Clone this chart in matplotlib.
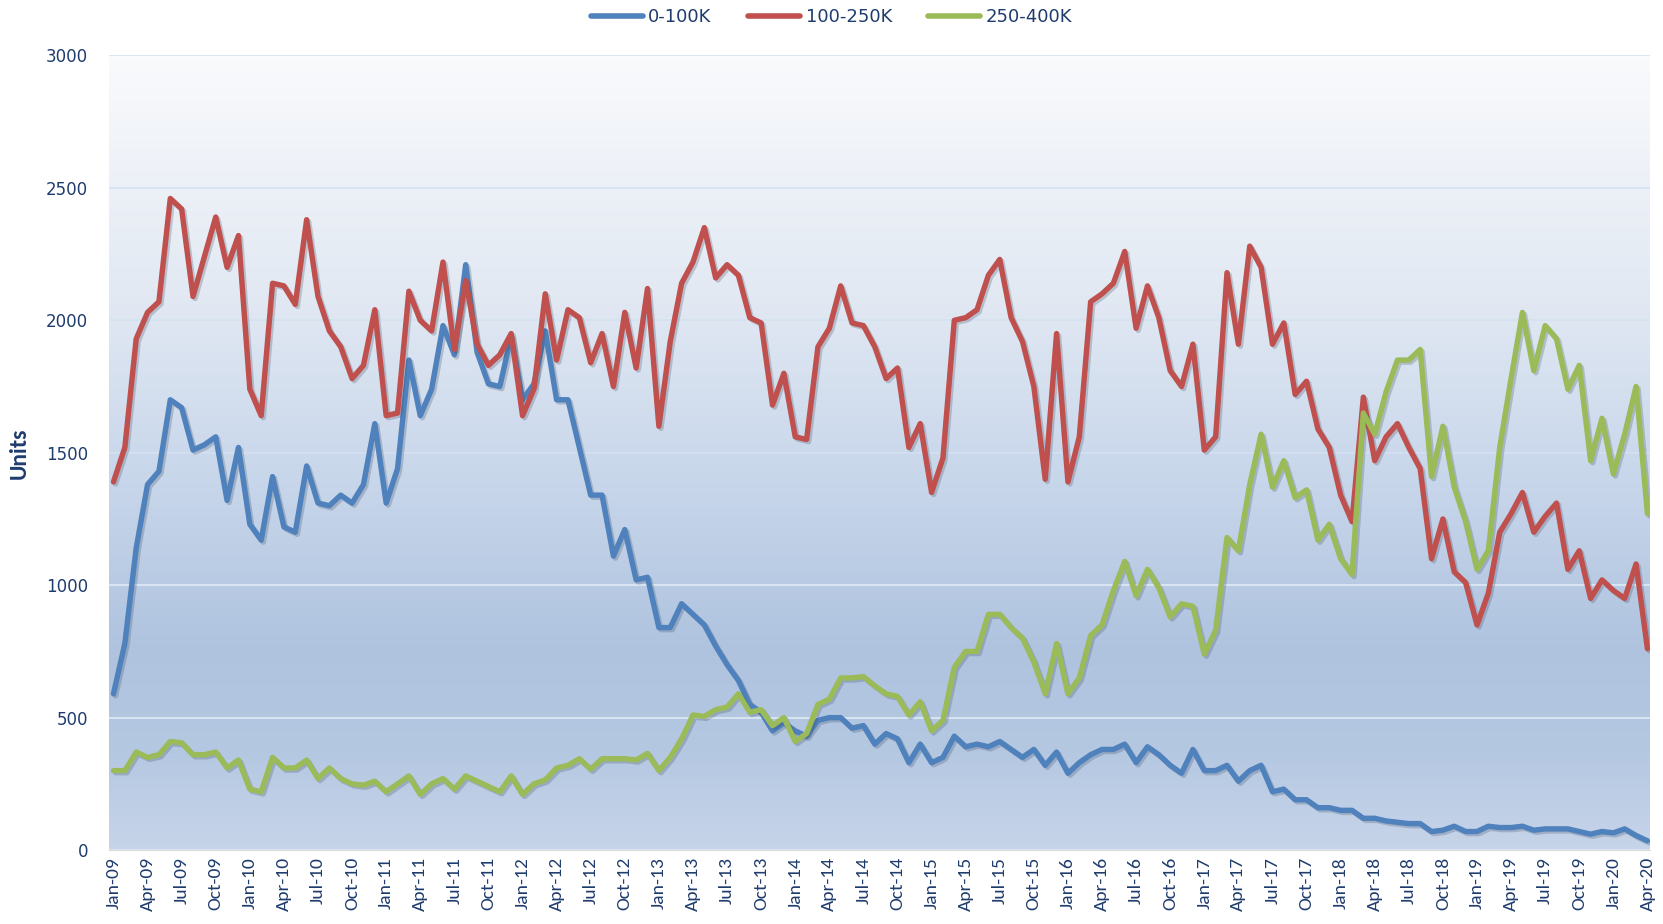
import numpy as np
import matplotlib
matplotlib.use("Agg")
import matplotlib.pyplot as plt
import matplotlib.patheffects as pe
from matplotlib.colors import LinearSegmentedColormap

months = ["Jan", "Feb", "Mar", "Apr", "May", "Jun", "Jul", "Aug", "Sep", "Oct", "Nov", "Dec"]
dates = [f"{m}-{y:02d}" for y in range(9, 21) for m in months][:136]

low_0_100k = [
    590, 780, 1140, 1380, 1430, 1700, 1670, 1510, 1530, 1560, 1320, 1520,
    1230, 1170, 1410, 1220, 1200, 1450, 1310, 1300, 1340, 1310, 1380, 1610,
    1310, 1440, 1850, 1640, 1740, 1980, 1870, 2210, 1880, 1760, 1750, 1940,
    1700, 1760, 1960, 1700, 1700, 1520, 1340, 1340, 1110, 1210, 1020, 1030,
    840, 840, 930, 890, 850, 770, 700, 640, 550, 520, 450, 480,
    450, 430, 490, 500, 500, 460, 470, 400, 440, 420, 330, 400,
    330, 350, 430, 390, 400, 390, 410, 380, 350, 380, 320, 370,
    290, 330, 360, 380, 380, 400, 330, 390, 360, 320, 290, 380,
    300, 300, 320, 260, 300, 320, 220, 230, 190, 190, 160, 160,
    150, 150, 120, 120, 110, 105, 100, 100, 70, 75, 90, 70,
    70, 90, 85, 85, 90, 75, 80, 80, 80, 70, 60, 70,
    65, 80, 55, 35,
]

mid_100_250k = [
    1390, 1520, 1930, 2030, 2070, 2460, 2420, 2090, 2240, 2390, 2200, 2320,
    1740, 1640, 2140, 2130, 2060, 2380, 2090, 1960, 1900, 1780, 1830, 2040,
    1640, 1650, 2110, 2000, 1960, 2220, 1890, 2150, 1910, 1830, 1870, 1950,
    1640, 1740, 2100, 1850, 2040, 2010, 1840, 1950, 1750, 2030, 1820, 2120,
    1600, 1920, 2140, 2220, 2350, 2160, 2210, 2170, 2010, 1990, 1680, 1800,
    1560, 1550, 1900, 1970, 2130, 1990, 1980, 1900, 1780, 1820, 1520, 1610,
    1350, 1480, 2000, 2010, 2040, 2170, 2230, 2010, 1920, 1750, 1400, 1950,
    1390, 1560, 2070, 2100, 2140, 2260, 1970, 2130, 2010, 1810, 1750, 1910,
    1510, 1560, 2180, 1910, 2280, 2200, 1910, 1990, 1720, 1770, 1590, 1520,
    1340, 1240, 1710, 1470, 1560, 1610, 1520, 1440, 1100, 1250, 1050, 1010,
    850, 970, 1200, 1270, 1350, 1200, 1260, 1310, 1060, 1130, 950, 1020,
    980, 950, 1080, 760,
]

high_250_400k = [
    300, 300, 370, 350, 360, 410, 405, 360, 360, 370, 310, 340,
    230, 220, 350, 310, 310, 340, 270, 310, 270, 250, 245, 260,
    220, 250, 280, 210, 250, 270, 230, 280, 260, 240, 220, 280,
    210, 250, 265, 310, 320, 345, 305, 345, 345, 345, 340, 365,
    300, 350, 420, 510, 505, 530, 540, 590, 520, 530, 470, 500,
    410, 440, 550, 570, 650, 650, 655, 620, 590, 580, 510, 560,
    450, 490, 690, 750, 750, 890, 890, 840, 800, 710, 590, 780,
    590, 650, 810, 850, 980, 1090, 960, 1060, 990, 880, 930, 920,
    740, 830, 1180, 1130, 1380, 1570, 1370, 1470, 1330, 1360, 1170, 1230,
    1100, 1040, 1650, 1570, 1730, 1850, 1850, 1890, 1410, 1600, 1370, 1240,
    1060, 1130, 1520, 1780, 2030, 1810, 1980, 1930, 1740, 1830, 1470, 1630,
    1420, 1570, 1750, 1270,
]

series_names = ["0-100K", "100-250K", "250-400K"]
series_colors = ["#4f81bd", "#c0504d", "#9bbb59"]
yticks = [0, 500, 1000, 1500, 2000, 2500, 3000]

text_color = "#1f3c6e"
narrow = ["Carlito", "DejaVu Sans"]

fig = plt.figure(figsize=(16.63, 9.24), dpi=100)
ax = fig.add_axes([0.0655, 0.080, 0.9265, 0.860])

x = np.arange(len(dates))
xmin, xmax = -0.4, len(dates) - 1 + 0.2
ymin, ymax = 0, 3000

# gradient background
grad_cmap = LinearSegmentedColormap.from_list(
    "bg",
    [(0.0, "#c6d4e9"), (0.12, "#b5c8e2"), (0.25, "#afc3df"), (0.45, "#c6d5ea"),
     (0.7, "#e2e9f3"), (1.0, "#f9fafc")],
)
grad = np.linspace(0, 1, 256).reshape(-1, 1)
ax.imshow(grad, extent=[xmin, xmax, ymin, ymax], origin="lower", aspect="auto",
          cmap=grad_cmap, zorder=0, interpolation="bicubic")

for yt in yticks:
    c = "#d3e1f3" if yt >= 1500 else "#e4ecf7"
    ax.axhline(yt, color=c, lw=1.1, zorder=1)

shadow = [pe.SimpleLineShadow(offset=(1.5, -1.5), shadow_color="#3a4a60", alpha=0.25), pe.Normal()]
handles = []
for vals, name, col in zip([low_0_100k, mid_100_250k, high_250_400k], series_names, series_colors):
    ln, = ax.plot(x, vals, color=col, lw=3.9, solid_joinstyle="round", solid_capstyle="round",
                  zorder=3, label=name, path_effects=shadow)
    handles.append(ln)

ax.set_xlim(xmin, xmax)
ax.set_ylim(ymin, ymax)
ax.set_xticks(x[::3])
ax.set_xticklabels(dates[::3], rotation=90, fontsize=14, color=text_color, family=narrow)
ax.set_yticks(yticks)
ax.set_yticklabels([str(v) for v in yticks], fontsize=12, color=text_color, family="DejaVu Sans")
ax.tick_params(axis="y", length=0, pad=15)
ax.tick_params(axis="x", length=0, pad=5)
for s in ["top", "right", "left"]:
    ax.spines[s].set_visible(False)
ax.spines["bottom"].set_color("#d9d9d9")
ax.set_ylabel("Units", fontsize=17, fontweight="bold", color=text_color,
              family=narrow, labelpad=12)

leg = fig.legend(handles=handles, labels=series_names, loc="upper center",
                 bbox_to_anchor=(0.5, 1.009), ncol=3, frameon=False, fontsize=13,
                 handlelength=2.9, columnspacing=2.0, handletextpad=0.3)
for t in leg.get_texts():
    t.set_color(text_color)
for lh in leg.get_lines():
    lh.set_path_effects([])
    lh.set_linewidth(4.0)
    lh.set_solid_capstyle("round")

fig.savefig("out.png", dpi=100)
